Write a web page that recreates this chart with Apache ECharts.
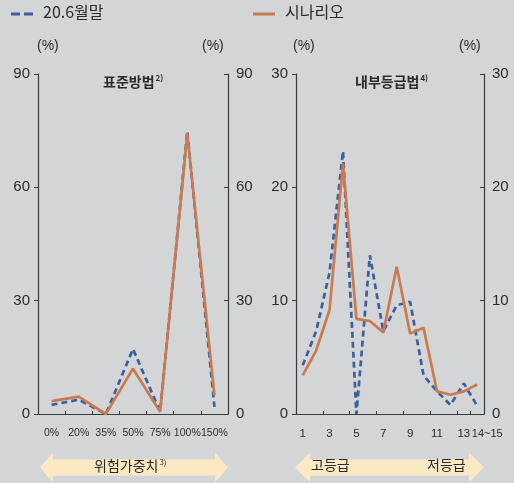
<!DOCTYPE html>
<html>
<head>
<meta charset="utf-8">
<script src="https://cdn.jsdelivr.net/npm/echarts@6/dist/echarts.min.js"></script>
<style>
  html, body { margin: 0; padding: 0; background: #d4d5d7; }
  #chart { width: 514px; height: 483px; }
</style>
</head>
<body>
<div id="chart"></div>
<script>
// Standardised approach: exposure share by risk weight (%)
const riskWeights = ['0%', '20%', '35%', '50%', '75%', '100%', '150%'];
const stdActual   = [2.4, 3.8, 0, 17.2, 0.6, 74.8, 1.9];
const stdScenario = [3.4, 4.6, 0, 12.0, 0.6, 74.2, 5.0];

// Internal ratings approach: exposure share by grade (%)
const grades = ['1', '2', '3', '4', '5', '6', '7', '8', '9', '10', '11', '12', '13', '14~15'];
const irbActual   = [4.3, 7.3, 12.5, 23.2, 0, 14.0, 7.3, 9.6, 9.9, 3.4, 2.0, 0.8, 2.7, 0.7];
const irbScenario = [3.4, 5.6, 9.2, 22.1, 8.4, 8.2, 7.2, 13.0, 7.1, 7.6, 2.0, 1.7, 2.0, 2.6];

const seriesNames = ['20.6월말', '시나리오'];
const stdTicks = { min: 0, max: 90, interval: 30 };
const irbTicks = { min: 0, max: 30, interval: 10 };

const BLUE = '#3b5f9f';
const ORANGE = '#c87b52';
const AXIS = '#3a3a3a';
const TEXT = '#2b2b2b';
const KR = "'Noto Sans CJK KR', 'Noto Sans', sans-serif";
const NUM = "'Liberation Sans', Arial, sans-serif";

const chart = echarts.init(document.getElementById('chart'), null, { renderer: 'canvas' });

function xAxisFor(gridIndex, data, labelOpts) {
  return {
    type: 'category', gridIndex, data, boundaryGap: true,
    axisLine: { lineStyle: { color: AXIS, width: 1.2 } },
    axisTick: { show: true, inside: true, length: 3, lineStyle: { color: AXIS } },
    axisLabel: Object.assign({
      color: TEXT, fontFamily: NUM, fontSize: 10.5, margin: 14, interval: 0,
      hideOverlap: false, showMaxLabel: true, showMinLabel: true
    }, labelOpts || {}),
    splitLine: { show: false }
  };
}

function yAxisFor(gridIndex, ticks, position) {
  return {
    type: 'value', gridIndex, position,
    min: ticks.min, max: ticks.max, interval: ticks.interval,
    axisLine: { show: true, lineStyle: { color: AXIS, width: 1.2 } },
    axisTick: { show: true, inside: position === 'right', length: 4, lineStyle: { color: AXIS } },
    axisLabel: { color: TEXT, fontFamily: NUM, fontSize: 15, margin: 8 },
    splitLine: { show: false }
  };
}

function lineSeries(name, xi, yi, data, dashed) {
  return {
    name, type: 'line', xAxisIndex: xi, yAxisIndex: yi, data,
    symbol: 'none', showSymbol: false, animation: false,
    lineStyle: dashed
      ? { color: BLUE, width: 2.7, type: [6, 4] }
      : { color: ORANGE, width: 2.7 },
    itemStyle: { color: dashed ? BLUE : ORANGE }
  };
}

function arrow(x1, x2, cy, head, halfBody, halfHead) {
  return {
    type: 'polygon', silent: true,
    shape: { points: [
      [x1, cy], [x1 + head, cy - halfHead], [x1 + head, cy - halfBody],
      [x2 - head, cy - halfBody], [x2 - head, cy - halfHead], [x2, cy],
      [x2 - head, cy + halfHead], [x2 - head, cy + halfBody],
      [x1 + head, cy + halfBody], [x1 + head, cy + halfHead]
    ] },
    style: { fill: '#fbe9c4' }
  };
}

function legendKey(x, y, name, dashed) {
  return [
    {
      type: 'line', silent: true,
      shape: { x1: x, y1: y, x2: x + 22, y2: y },
      style: dashed
        ? { stroke: BLUE, lineWidth: 3, lineDash: [9, 4] }
        : { stroke: ORANGE, lineWidth: 3 }
    },
    {
      type: 'text', left: x + 32, top: y - 10,
      style: { text: name, font: "16px 'Noto Sans CJK KR', sans-serif", fill: TEXT }
    }
  ];
}

const supRich = {
  m: { fontFamily: KR, fontSize: 14, fontWeight: 'bold', color: TEXT },
  s: { fontFamily: KR, fontSize: 8, fontWeight: 'bold', color: TEXT, verticalAlign: 'top', padding: [0, 0, 8, 1] }
};

const option = {
  backgroundColor: '#d4d5d7',
  animation: false,
  title: [
    { text: '{m|표준방법}{s|2)}', left: 98, top: 69, textStyle: { rich: supRich } },
    { text: '{m|내부등급법}{s|4)}', left: 350, top: 69, textStyle: { rich: supRich } }
  ],
  grid: [
    { left: 38, top: 74, width: 190, height: 340 },
    { left: 296, top: 74, width: 188, height: 340 }
  ],
  xAxis: [
    xAxisFor(0, riskWeights),
    xAxisFor(1, grades, {
      fontSize: 11.5,
      interval: function (i) { return i % 2 === 0 || i === grades.length - 1; },
      formatter: function (v, i) { return i === grades.length - 1 ? '{w|' + v + '}' : v; },
      rich: { w: { fontFamily: NUM, fontSize: 11, color: TEXT, padding: [0, 0, 0, 20] } }
    })
  ],
  yAxis: [
    yAxisFor(0, stdTicks, 'left'),
    yAxisFor(0, stdTicks, 'right'),
    yAxisFor(1, irbTicks, 'left'),
    yAxisFor(1, irbTicks, 'right')
  ],
  series: [
    lineSeries(seriesNames[0], 0, 0, stdActual, true),
    lineSeries(seriesNames[1], 0, 0, stdScenario, false),
    lineSeries(seriesNames[0], 1, 2, irbActual, true),
    lineSeries(seriesNames[1], 1, 2, irbScenario, false)
  ],
  graphic: [].concat(
    legendKey(11, 14, seriesNames[0], true),
    legendKey(253, 14, seriesNames[1], false),
    [
      { type: 'text', left: 37, top: 39, style: { text: '(%)', font: "14px 'Liberation Sans', sans-serif", fill: TEXT } },
      { type: 'text', left: 202, top: 39, style: { text: '(%)', font: "14px 'Liberation Sans', sans-serif", fill: TEXT } },
      { type: 'text', left: 293, top: 39, style: { text: '(%)', font: "14px 'Liberation Sans', sans-serif", fill: TEXT } },
      { type: 'text', left: 459, top: 39, style: { text: '(%)', font: "14px 'Liberation Sans', sans-serif", fill: TEXT } },
      arrow(40, 228, 467.5, 13, 8, 15),
      arrow(295, 484, 467.5, 15, 8, 15),
      {
        type: 'text', left: 94, top: 458,
        style: {
          text: '{m|위험가중치}{s|3)}',
          rich: {
            m: { fontFamily: KR, fontSize: 14, fill: TEXT, color: TEXT },
            s: { fontFamily: KR, fontSize: 8, fill: TEXT, color: TEXT, verticalAlign: 'top', padding: [0, 0, 8, 1] }
          }
        }
      },
      { type: 'text', left: 311, top: 458, style: { text: '고등급', font: "14px 'Noto Sans CJK KR', sans-serif", fill: TEXT } },
      { type: 'text', left: 427, top: 458, style: { text: '저등급', font: "14px 'Noto Sans CJK KR', sans-serif", fill: TEXT } }
    ]
  )
};

chart.setOption(option);
</script>
</body>
</html>
